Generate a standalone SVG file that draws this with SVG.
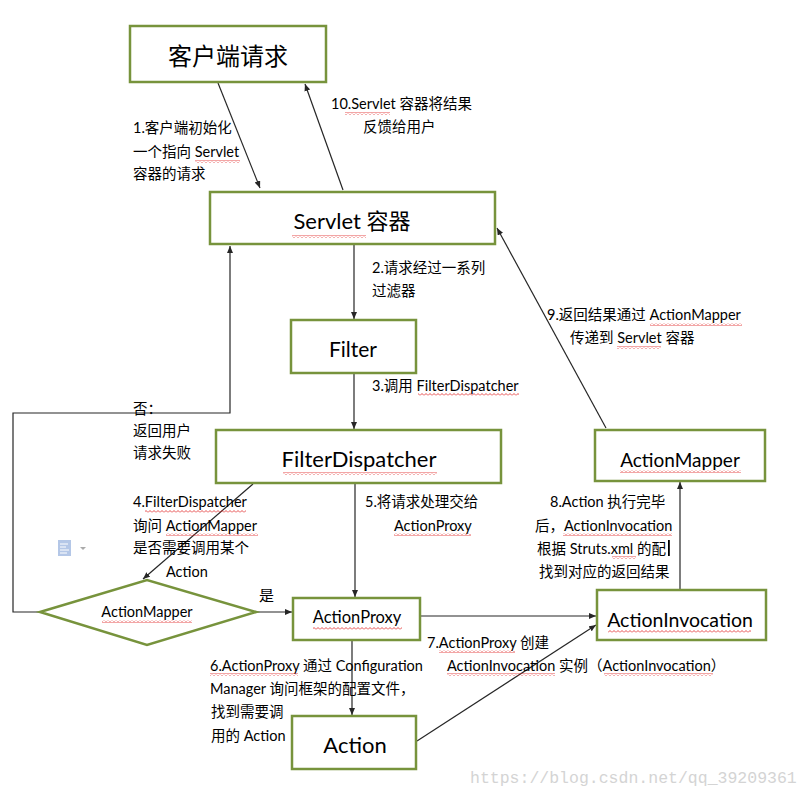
<svg xmlns="http://www.w3.org/2000/svg" width="809" height="797" viewBox="0 0 809 797">
<defs>
<style>
.box{fill:#fff;stroke:#77933C;stroke-width:2.5}
.ln{fill:none;stroke:#262626;stroke-width:1.2;marker-end:url(#ah)}
text{font-family:Lato,"Noto Sans CJK SC",sans-serif;fill:#000}
.nt{text-anchor:middle;font-size:22px}
.lb{font-size:14.5px}
.wv{fill:url(#wave)}
</style>
<marker id="ah" markerWidth="8" markerHeight="8" refX="7" refY="3" orient="auto" markerUnits="userSpaceOnUse"><path d="M0,0 L7,3 L0,6 z" fill="#262626"/></marker>
<pattern id="wave" width="4" height="3" patternUnits="userSpaceOnUse"><path d="M0,2.5 L2,0.5 L4,2.5" fill="none" stroke="#e02020" stroke-width="0.8"/></pattern>
</defs>
<rect width="809" height="797" fill="#fff"/>

<g id="connectors">
<path class="ln" d="M218,83 L260,188"/>
<path class="ln" d="M343,190 L305,84"/>
<path class="ln" d="M354,244 L354,319"/>
<path class="ln" d="M354,373 L354,429"/>
<path class="ln" d="M606,428 L497,228"/>
<path class="ln" d="M253,484 L143,579"/>
<path class="ln" d="M355,484 L355,597"/>
<path class="ln" d="M256,612 L292,612"/>
<path class="ln" d="M40,612 L13,612 L13,413 L230,413 L230,246"/>
<path class="ln" d="M420,616 L596,616"/>
<path class="ln" d="M417,741 L596,625"/>
<path class="ln" d="M352,640 L352,715"/>
<path class="ln" d="M680,590 L680,482"/>
</g>

<g id="client"><rect class="box" x="130" y="26" width="196" height="56"/><text class="nt" x="228" y="65" style="font-size:24px">客户端请求</text></g>
<g id="servlet"><rect class="box" x="210" y="192" width="285" height="52"/><text class="nt" x="352" y="229">Servlet 容器</text></g>
<g id="filter"><rect class="box" x="291" y="320" width="125" height="53"/><text class="nt" x="353" y="357" style="font-size:21px">Filter</text></g>
<g id="filterDispatcher"><rect class="box" x="216" y="430" width="285" height="53"/><text class="nt" x="359" y="467">FilterDispatcher</text></g>
<g id="actionMapper"><rect class="box" x="595" y="430" width="170" height="51"/><text class="nt" x="680" y="467" style="font-size:19px">ActionMapper</text></g>
<g id="decision"><polygon class="box" points="40,612 147,580 256,612 147,645"/><text class="nt" x="147" y="617" style="font-size:14.5px">ActionMapper</text></g>
<g id="actionProxy"><rect class="box" x="293" y="598" width="127" height="42"/><text class="nt" x="357" y="623" style="font-size:16.5px">ActionProxy</text></g>
<g id="actionInvocation"><rect class="box" x="597" y="590" width="169" height="50"/><text class="nt" x="680" y="627" style="font-size:19.5px">ActionInvocation</text></g>
<g id="action"><rect class="box" x="292" y="716" width="124" height="53"/><text class="nt" x="355" y="753">Action</text></g>

<g id="labels">
<text class="lb" x="133" y="133">1.客户端初始化</text>
<text class="lb" x="133" y="157">一个指向 Servlet</text>
<text class="lb" x="133" y="179">容器的请求</text>
<text class="lb" x="331" y="109">10.Servlet 容器将结果</text>
<text class="lb" x="363" y="132">反馈给用户</text>
<text class="lb" x="372" y="273">2.请求经过一系列</text>
<text class="lb" x="372" y="296">过滤器</text>
<text class="lb" x="372" y="391">3.调用 FilterDispatcher</text>
<text class="lb" x="547" y="320">9.返回结果通过 ActionMapper</text>
<text class="lb" x="570" y="343">传递到 Servlet 容器</text>
<text class="lb" x="133" y="414">否：</text>
<text class="lb" x="133" y="436">返回用户</text>
<text class="lb" x="133" y="458">请求失败</text>
<text class="lb" x="133" y="507">4.FilterDispatcher</text>
<text class="lb" x="133" y="531">询问 ActionMapper</text>
<text class="lb" x="133" y="553">是否需要调用某个</text>
<text class="lb" x="166" y="577">Action</text>
<text class="lb" x="365" y="507">5.将请求处理交给</text>
<text class="lb" x="394" y="531">ActionProxy</text>
<text class="lb" x="550" y="507">8.Action 执行完毕</text>
<text class="lb" x="535" y="531">后，ActionInvocation</text>
<text class="lb" x="537" y="554">根据 Struts.xml 的配</text>
<text class="lb" x="539" y="577">找到对应的返回结果</text>
<text class="lb" x="259" y="601" style="font-size:15px">是</text>
<text class="lb" x="210" y="671">6.ActionProxy 通过 Configuration</text>
<text class="lb" x="210" y="694">Manager 询问框架的配置文件，</text>
<text class="lb" x="211" y="717">找到需要调</text>
<text class="lb" x="211" y="741">用的 Action</text>
<text class="lb" x="427" y="648">7.ActionProxy 创建</text>
<text class="lb" x="447" y="671">ActionInvocation 实例（ActionInvocation）</text>
</g>

<g id="decor">
<rect x="668" y="540" width="1.8" height="16" fill="#000"/>
<rect x="58" y="540" width="13" height="16" fill="#b4c7e7"/>
<path d="M60,544 H68 M60,547 H66 M60,550 H69 M60,553 H67" stroke="#fff" stroke-width="1"/>
<path d="M80,547 L86,547 L83,550 z" fill="#aaa"/>
<rect class="wv" x="195" y="160" width="45" height="3"/>
<rect class="wv" x="345" y="112" width="45" height="3"/>
<rect class="wv" x="292" y="235" width="74" height="3"/>
<rect class="wv" x="418" y="393" width="101" height="3"/>
<rect class="wv" x="650" y="323" width="92" height="3"/>
<rect class="wv" x="617" y="346" width="44" height="3"/>
<rect class="wv" x="283" y="472" width="154" height="3"/>
<rect class="wv" x="145" y="510" width="101" height="3"/>
<rect class="wv" x="166" y="533" width="92" height="3"/>
<rect class="wv" x="394" y="533" width="77" height="3"/>
<rect class="wv" x="620" y="470" width="121" height="3"/>
<rect class="wv" x="563" y="533" width="109" height="3"/>
<rect class="wv" x="612" y="556" width="24" height="3"/>
<rect class="wv" x="102" y="620" width="90" height="3"/>
<rect class="wv" x="313" y="627" width="89" height="3"/>
<rect class="wv" x="608" y="630" width="143" height="3"/>
<rect class="wv" x="439" y="650" width="76" height="3"/>
<rect class="wv" x="447" y="673" width="108" height="3"/>
<rect class="wv" x="604" y="673" width="109" height="3"/>
<rect class="wv" x="210" y="673" width="88" height="3"/>
</g>

<text x="470" y="783" style="font-family:'Liberation Mono',monospace;font-size:16.5px;fill:#d4d4d4">https://blog.csdn.net/qq_39209361</text>
</svg>
